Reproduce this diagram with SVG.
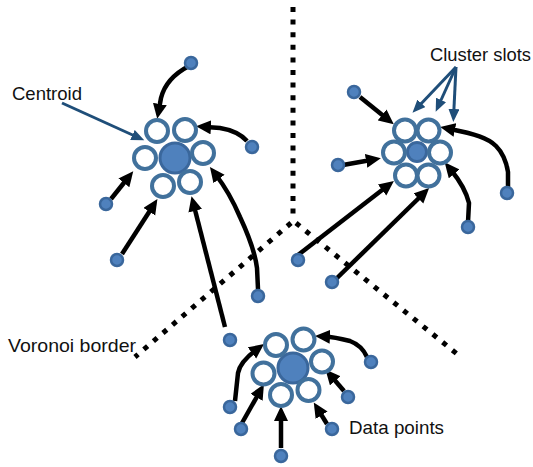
<svg xmlns="http://www.w3.org/2000/svg" width="533" height="467" viewBox="0 0 533 467">
<defs>
<marker id="ah" markerUnits="userSpaceOnUse" markerWidth="16" markerHeight="15" refX="5" refY="7" orient="auto"><path d="M0,0 L15,7 L0,14 z" fill="#000"/></marker>
<marker id="bh" markerUnits="userSpaceOnUse" markerWidth="14" markerHeight="12" refX="5" refY="5.5" orient="auto"><path d="M0,0 L13,5.5 L0,11 z" fill="#1F4E79"/></marker>
<style>
.v{fill:none;stroke:#000;stroke-width:5;stroke-dasharray:5 7.6}
.a{fill:none;stroke:#000;stroke-width:4.5;marker-end:url(#ah)}
.b{fill:none;stroke:#1F4E79;stroke-width:3;marker-end:url(#bh)}
.s{fill:#fff;stroke:#41719C;stroke-width:4}
.c{fill:#4F81BD;stroke:#3A679C;stroke-width:3}
.d{fill:#4F81BD;stroke:#3A679C;stroke-width:2.5}
.t{font-family:"Liberation Sans",Arial,sans-serif;font-size:18.5px;fill:#111}
</style>
</defs>
<g id="voronoi">
<path class="v" d="M293,7 L293,218"/>
<path class="v" d="M291,223 L135,357"/>
<path class="v" d="M296,223 L462,358"/>
</g>
<g id="connectors">
<path class="a" d="M189,66 Q166,78 161,98 L159,109"/>
<path class="a" d="M247,141 Q238,131 220,128 L206,127"/>
<path class="a" d="M111,199 L127,179"/>
<path class="a" d="M122,254 L152,207.5"/>
<path class="a" d="M225,327 L194,206"/>
<path class="a" d="M258,289 L257,268 C255,252 247,232 240,217 C234,203 226,188 216,175"/>
<path class="a" d="M360,97 L386,118"/>
<path class="a" d="M343,165 L371,160"/>
<path class="a" d="M508,187 L508,172 C506,160 502,152 496,146 C488,138 475,134 450,129"/>
<path class="a" d="M468,222 L469,203 Q465,187 451,170"/>
<path class="a" d="M298,255 L386,187"/>
<path class="a" d="M336,279 L422,195"/>
<path class="a" d="M367,357 C363,348 358,344 350,341 C342,339 334,337 325,336.5"/>
<path class="a" d="M344,391 L332,377"/>
<path class="a" d="M235,401 L238,373 Q240,362 256,350"/>
<path class="a" d="M242,423 L259,393"/>
<path class="a" d="M281,448 L281,416"/>
<path class="a" d="M327,424 L319,411"/>
<path class="b" d="M62,103 L137,137"/>
<path class="b" d="M456,67 L418,107"/>
<path class="b" d="M456,67 L439,104.5"/>
<path class="b" d="M456,67 L453.7,114"/>
</g>
<g id="cluster-a">
<circle class="c" cx="175" cy="158" r="15"/>
<circle class="s" cx="157" cy="131" r="11"/>
<circle class="s" cx="185" cy="130" r="11"/>
<circle class="s" cx="145" cy="158" r="11"/>
<circle class="s" cx="203" cy="153" r="11"/>
<circle class="s" cx="163" cy="186" r="11"/>
<circle class="s" cx="190" cy="182" r="11"/>
</g>
<g id="cluster-b">
<circle class="c" cx="417" cy="152" r="9.5"/>
<circle class="s" cx="405" cy="130.5" r="11"/>
<circle class="s" cx="428.5" cy="130.5" r="11"/>
<circle class="s" cx="394" cy="152.5" r="11"/>
<circle class="s" cx="440" cy="152.5" r="11"/>
<circle class="s" cx="406" cy="175.5" r="11"/>
<circle class="s" cx="428.5" cy="175.5" r="11"/>
</g>
<g id="cluster-c">
<circle class="c" cx="293" cy="368" r="15"/>
<circle class="s" cx="276" cy="345" r="11"/>
<circle class="s" cx="303.5" cy="339.5" r="11"/>
<circle class="s" cx="322" cy="361.5" r="11"/>
<circle class="s" cx="263.5" cy="373.5" r="11"/>
<circle class="s" cx="281" cy="395" r="11"/>
<circle class="s" cx="308.5" cy="390" r="11"/>
</g>
<g id="data-points">
<circle class="d" cx="191" cy="63" r="6"/>
<circle class="d" cx="252" cy="147" r="6"/>
<circle class="d" cx="106" cy="204" r="6"/>
<circle class="d" cx="117" cy="260" r="6"/>
<circle class="d" cx="230" cy="340" r="6"/>
<circle class="d" cx="258" cy="296" r="6"/>
<circle class="d" cx="354" cy="92" r="6"/>
<circle class="d" cx="338" cy="165" r="6"/>
<circle class="d" cx="507" cy="193" r="6"/>
<circle class="d" cx="468" cy="227" r="6"/>
<circle class="d" cx="298" cy="260" r="6"/>
<circle class="d" cx="332" cy="282" r="6"/>
<circle class="d" cx="371" cy="362" r="6"/>
<circle class="d" cx="348" cy="397" r="6"/>
<circle class="d" cx="230" cy="407" r="6"/>
<circle class="d" cx="241" cy="429" r="6"/>
<circle class="d" cx="281" cy="456" r="6"/>
<circle class="d" cx="332" cy="429" r="6"/>
</g>
<g id="labels">
<text class="t" x="12" y="100" textLength="70" lengthAdjust="spacingAndGlyphs">Centroid</text>
<text class="t" x="430" y="61" textLength="101" lengthAdjust="spacingAndGlyphs">Cluster slots</text>
<text class="t" x="8" y="352" textLength="128" lengthAdjust="spacingAndGlyphs">Voronoi border</text>
<text class="t" x="349" y="434" textLength="95" lengthAdjust="spacingAndGlyphs">Data points</text>
</g>
</svg>
